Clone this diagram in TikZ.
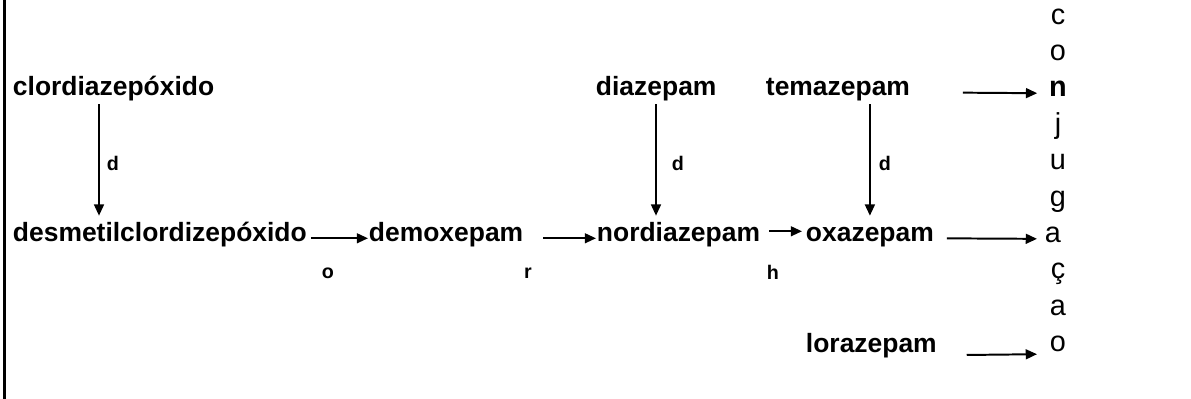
\documentclass[tikz,border=0pt]{standalone}
\usepackage{fontspec}
\setmainfont{Liberation Sans}
\usetikzlibrary{arrows.meta}

\begin{document}
\begin{tikzpicture}[x = 0.025cm, y = -0.025cm, line width = 1.4pt, >={Triangle[length = 8pt, width = 7pt]},
	drug/.style = {inner sep = 0pt, anchor = base west, text height = 18pt, text depth = 5pt, font = {\fontsize{18.8pt}{22}\selectfont\bfseries}},
	tag/.style = {inner sep = 0pt, font = {\fontsize{14pt}{16}\selectfont\bfseries}},
	letter/.style = {inner sep = 0pt, anchor = base, font = {\fontsize{20.5pt}{24}\selectfont}}]
\useasboundingbox (0,0) rectangle (1191,399);
\draw[line width = 1.5pt] (4.5,0) -- (4.5,399);

\node[drug] (CLD) at (12, 96) {clordiazepóxido};
\node[drug] (DZP) at (595, 96) {diazepam};
\node[drug] (TMZ) at (765, 96) {temazepam};
\node[drug] (DES) at (12, 242) {desmetilclordizepóxido};
\node[drug] (DMX) at (368, 242) {demoxepam};
\node[drug] (NOR) at (596, 242) {nordiazepam};
\node[drug] (OXA) at (805, 242) {oxazepam};
\node[drug] (LOR) at (805, 353) {lorazepam};

% conjugacao, one letter under the other
\foreach \ch/\dx [count = \i from 0] in {c/0, o/0, {\bfseries n}/0, j/0, u/0, g/0, a/-5, ç/0, a/0, o/0}
	\node[letter] (CJ\i) at (1058 + \dx, 24.2 + 36.4*\i) {\ch};

\node[tag] (D1) at (113, 163) {d};
\node[tag] (D2) at (678, 163) {d};
\node[tag] (D3) at (885, 163) {d};
\node[tag] (TO) at (328, 273) {o};
\node[tag] (TR) at (528, 273) {r};
\node[tag] (TH) at (773, 272) {h};

\draw[->] (CLD.south -| 99,0) -- (DES.north -| 99,0);
\draw[->] (DZP.south -| 656,0) -- (NOR.north -| 656,0);
\draw[->] (TMZ.south -| OXA.north) -- (OXA.north);
\draw[->, shorten <= 0.075cm] (DES.mid east) -- (DMX.mid west);
\draw[->, shorten <= 0.475cm] (DMX.mid east) -- (NOR.mid west);
\draw[->, shorten <= 0.2cm, shorten >= 0.075cm] ([yshift = 0.175cm]NOR.mid east) -- ([yshift = 0.175cm]OXA.mid west);
\draw[->, shorten <= 0.3cm, shorten >= 0.175cm] (OXA.mid east) -- (CJ6.mid west);
\draw[->, shorten <= 1.3cm, shorten >= 0.275cm] (TMZ.mid east) -- (CJ2.mid west);
\draw[->, shorten <= 0.725cm, shorten >= 0.3cm] ([yshift = -0.15cm]LOR.mid east) -- ([yshift = -0.15cm]CJ9.mid west);
\end{tikzpicture}
\end{document}
